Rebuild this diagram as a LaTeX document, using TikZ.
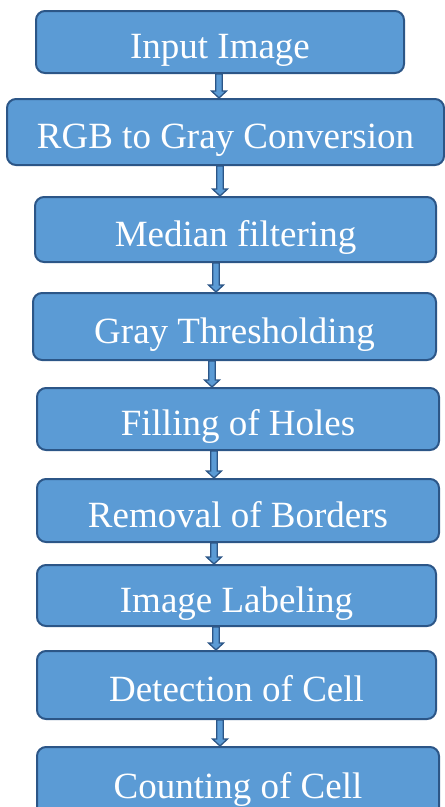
\documentclass[tikz,border=0pt]{standalone}
\usepackage{fontspec}
\setmainfont{Liberation Serif}
\usetikzlibrary{calc}
\definecolor{boxfill}{HTML}{5B9BD5}
\definecolor{boxline}{HTML}{2C5687}
\tikzset{
  stage/.style={draw=boxline, fill=boxfill, line width=2pt, rounded corners=9pt,
    text=white, font=\fontsize{37}{40}\selectfont, inner sep=0pt,
    text height=33pt, text depth=0pt, align=center},
  blockarrow/.style={draw=boxline, fill=boxfill, line width=1.3pt, line join=miter}
}
\newcommand{\flowarrow}[3]{%
  \path let \p1=(#1.south -| #3,0), \p2=(#2.north -| #3,0) in
    [blockarrow] (\x1-3.2pt,\y1) -- (\x1+3.2pt,\y1) -- (\x1+3.2pt,\y2+7pt)
    -- (\x1+7.5pt,\y2+7pt) -- (\x1,\y2) -- (\x1-7.5pt,\y2+7pt)
    -- (\x1-3.2pt,\y2+7pt) -- cycle;}
\begin{document}
\begin{tikzpicture}[x=1pt,y=-1pt]
\useasboundingbox (0,0) rectangle (445,807);
\clip (0,0) rectangle (445,807);
\node[stage, minimum width=368pt, minimum height=62pt] (n1) at (220,42) {Input Image};
\node[stage, minimum width=437pt, minimum height=66pt] (n2) at (225.5,132) {RGB to Gray Conversion};
\node[stage, minimum width=401pt, minimum height=65pt] (n3) at (235.5,229.5) {Median filtering};
\node[stage, minimum width=403pt, minimum height=67pt] (n4) at (234.5,326.5) {Gray Thresholding};
\node[stage, minimum width=402pt, minimum height=62pt] (n5) at (238,419) {Filling of Holes};
\node[stage, minimum width=402pt, minimum height=63pt] (n6) at (238,510.5) {Removal of Borders};
\node[stage, minimum width=399pt, minimum height=61pt] (n7) at (236.5,595.5) {Image Labeling};
\node[stage, minimum width=399pt, minimum height=68pt] (n8) at (236.5,685) {Detection of Cell};
\node[stage, minimum width=402pt, minimum height=70pt] (n9) at (238,782) {Counting of Cell};
\flowarrow{n1}{n2}{219}
\flowarrow{n2}{n3}{220}
\flowarrow{n3}{n4}{216}
\flowarrow{n4}{n5}{212}
\flowarrow{n5}{n6}{214}
\flowarrow{n6}{n7}{214}
\flowarrow{n7}{n8}{216}
\flowarrow{n8}{n9}{220}
\end{tikzpicture}
\end{document}
